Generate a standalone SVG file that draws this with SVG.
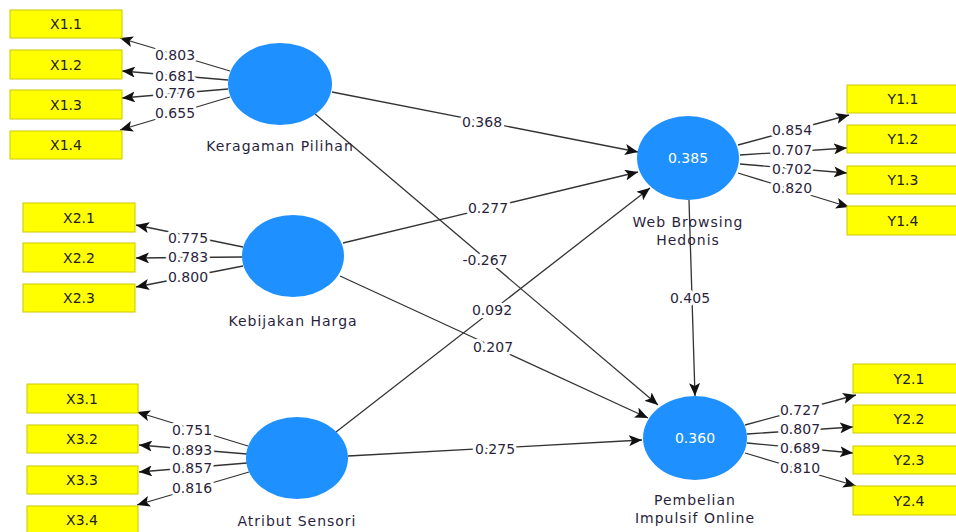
<svg xmlns="http://www.w3.org/2000/svg" width="956" height="532" viewBox="0 0 956 532">
<defs>
<marker id="ah" viewBox="0 0 13 11" refX="13" refY="5.5" markerWidth="13" markerHeight="11" markerUnits="userSpaceOnUse" orient="auto">
<path d="M0,0 L13,5.5 L0,11 L3,5.5 z" fill="#111"/>
</marker>
</defs>
<style>
.box{fill:#ffff00;stroke:#c9c900;stroke-width:1}
.bt{font-family:"DejaVu Sans",sans-serif;font-size:14px;fill:#222;text-anchor:middle}
.lv{fill:#1e90ff}
.lt{font-family:"DejaVu Sans",sans-serif;font-size:14px;fill:#2a1f3d;text-anchor:middle;letter-spacing:1px}
.r2{font-family:"DejaVu Sans",sans-serif;font-size:14px;fill:#fff;text-anchor:middle}
.ln{stroke:#333;stroke-width:1.3;fill:none;marker-end:url(#ah)}
.w{font-family:"DejaVu Sans",sans-serif;font-size:14px;fill:#2a1f3d;text-anchor:middle;stroke:#fff;stroke-width:6;paint-order:stroke;stroke-linejoin:round}
</style>
<rect width="956" height="532" fill="#fff"/>
<g id="connectors">
<line class="ln" x1="230" y1="71" x2="120" y2="38"/>
<line class="ln" x1="228" y1="80" x2="122" y2="71"/>
<line class="ln" x1="228" y1="89" x2="122" y2="98"/>
<line class="ln" x1="230" y1="97" x2="120" y2="130"/>
<line class="ln" x1="243" y1="247" x2="136" y2="225"/>
<line class="ln" x1="242" y1="257" x2="136" y2="258"/>
<line class="ln" x1="243" y1="266" x2="136" y2="287"/>
<line class="ln" x1="248" y1="446" x2="137" y2="412"/>
<line class="ln" x1="247" y1="454" x2="139" y2="445"/>
<line class="ln" x1="247" y1="463" x2="139" y2="472"/>
<line class="ln" x1="249" y1="472" x2="137" y2="505"/>
<line class="ln" x1="738" y1="145" x2="849" y2="115"/>
<line class="ln" x1="740" y1="155" x2="847" y2="148"/>
<line class="ln" x1="740" y1="164" x2="847" y2="173"/>
<line class="ln" x1="738" y1="173" x2="849" y2="207"/>
<line class="ln" x1="745" y1="425" x2="856" y2="395"/>
<line class="ln" x1="747" y1="434" x2="853" y2="427"/>
<line class="ln" x1="747" y1="443" x2="853" y2="453"/>
<line class="ln" x1="745" y1="453" x2="856" y2="486"/>
<line class="ln" x1="332" y1="92" x2="638" y2="152"/>
<line class="ln" x1="343" y1="243" x2="638" y2="172"/>
<line class="ln" x1="336" y1="432" x2="650" y2="188"/>
<line class="ln" x1="315" y1="114" x2="658" y2="405"/>
<line class="ln" x1="340" y1="276" x2="648" y2="418"/>
<line class="ln" x1="348" y1="456" x2="642" y2="440"/>
<line class="ln" x1="689" y1="200" x2="695" y2="396"/>
<text class="w" x="175" y="60">0.803</text>
<text class="w" x="175" y="81">0.681</text>
<text class="w" x="175" y="98">0.776</text>
<text class="w" x="175" y="118">0.655</text>
<text class="w" x="188" y="243">0.775</text>
<text class="w" x="188" y="262">0.783</text>
<text class="w" x="188" y="282">0.800</text>
<text class="w" x="192" y="435">0.751</text>
<text class="w" x="192" y="455">0.893</text>
<text class="w" x="192" y="473">0.857</text>
<text class="w" x="192" y="493">0.816</text>
<text class="w" x="792" y="135">0.854</text>
<text class="w" x="792" y="155">0.707</text>
<text class="w" x="792" y="174">0.702</text>
<text class="w" x="792" y="193">0.820</text>
<text class="w" x="800" y="415">0.727</text>
<text class="w" x="800" y="434">0.807</text>
<text class="w" x="800" y="453">0.689</text>
<text class="w" x="800" y="473">0.810</text>
<text class="w" x="482" y="127">0.368</text>
<text class="w" x="488" y="213">0.277</text>
<text class="w" x="485" y="265">-0.267</text>
<text class="w" x="492" y="315">0.092</text>
<text class="w" x="493" y="352">0.207</text>
<text class="w" x="495" y="454">0.275</text>
<text class="w" x="690" y="303">0.405</text>
</g>
<g id="X1.1"><rect class="box" x="10" y="10" width="112" height="28"/><text class="bt" x="66" y="29">X1.1</text></g>
<g id="X1.2"><rect class="box" x="10" y="50" width="112" height="29"/><text class="bt" x="66" y="70">X1.2</text></g>
<g id="X1.3"><rect class="box" x="10" y="90" width="112" height="29"/><text class="bt" x="66" y="110">X1.3</text></g>
<g id="X1.4"><rect class="box" x="10" y="131" width="112" height="28"/><text class="bt" x="66" y="150">X1.4</text></g>
<g id="X2.1"><rect class="box" x="23" y="203" width="112" height="29"/><text class="bt" x="79" y="223">X2.1</text></g>
<g id="X2.2"><rect class="box" x="23" y="243" width="112" height="29"/><text class="bt" x="79" y="263">X2.2</text></g>
<g id="X2.3"><rect class="box" x="23" y="284" width="112" height="28"/><text class="bt" x="79" y="303">X2.3</text></g>
<g id="X3.1"><rect class="box" x="27" y="384" width="111" height="29"/><text class="bt" x="82" y="404">X3.1</text></g>
<g id="X3.2"><rect class="box" x="27" y="425" width="111" height="28"/><text class="bt" x="82" y="444">X3.2</text></g>
<g id="X3.3"><rect class="box" x="27" y="466" width="111" height="28"/><text class="bt" x="82" y="485">X3.3</text></g>
<g id="X3.4"><rect class="box" x="27" y="506" width="111" height="29"/><text class="bt" x="82" y="525">X3.4</text></g>
<g id="Y1.1"><rect class="box" x="847" y="85" width="112" height="28"/><text class="bt" x="903" y="104">Y1.1</text></g>
<g id="Y1.2"><rect class="box" x="847" y="125" width="112" height="28"/><text class="bt" x="903" y="144">Y1.2</text></g>
<g id="Y1.3"><rect class="box" x="847" y="166" width="112" height="28"/><text class="bt" x="903" y="185">Y1.3</text></g>
<g id="Y1.4"><rect class="box" x="847" y="206" width="112" height="29"/><text class="bt" x="903" y="226">Y1.4</text></g>
<g id="Y2.1"><rect class="box" x="853" y="364" width="112" height="29"/><text class="bt" x="909" y="384">Y2.1</text></g>
<g id="Y2.2"><rect class="box" x="853" y="405" width="112" height="28"/><text class="bt" x="909" y="424">Y2.2</text></g>
<g id="Y2.3"><rect class="box" x="853" y="446" width="112" height="28"/><text class="bt" x="909" y="465">Y2.3</text></g>
<g id="Y2.4"><rect class="box" x="853" y="486" width="112" height="29"/><text class="bt" x="909" y="506">Y2.4</text></g>
<g id="KeragamanPilihan"><ellipse class="lv" cx="280" cy="84" rx="52" ry="41"/><text class="lt" x="280" y="151">Keragaman Pilihan</text></g>
<g id="KebijakanHarga"><ellipse class="lv" cx="293" cy="256" rx="51" ry="41"/><text class="lt" x="293" y="326">Kebijakan Harga</text></g>
<g id="AtributSensori"><ellipse class="lv" cx="297" cy="458" rx="51" ry="41"/><text class="lt" x="297" y="526">Atribut Sensori</text></g>
<g id="WebBrowsingHedonis"><ellipse class="lv" cx="688" cy="158" rx="51" ry="42"/><text class="r2" x="688" y="163">0.385</text><text class="lt" x="688" y="227">Web Browsing</text><text class="lt" x="688" y="245">Hedonis</text></g>
<g id="PembelianImpulsifOnline"><ellipse class="lv" cx="695" cy="438" rx="52" ry="42"/><text class="r2" x="695" y="443">0.360</text><text class="lt" x="695" y="505">Pembelian</text><text class="lt" x="695" y="523">Impulsif Online</text></g>
</svg>
